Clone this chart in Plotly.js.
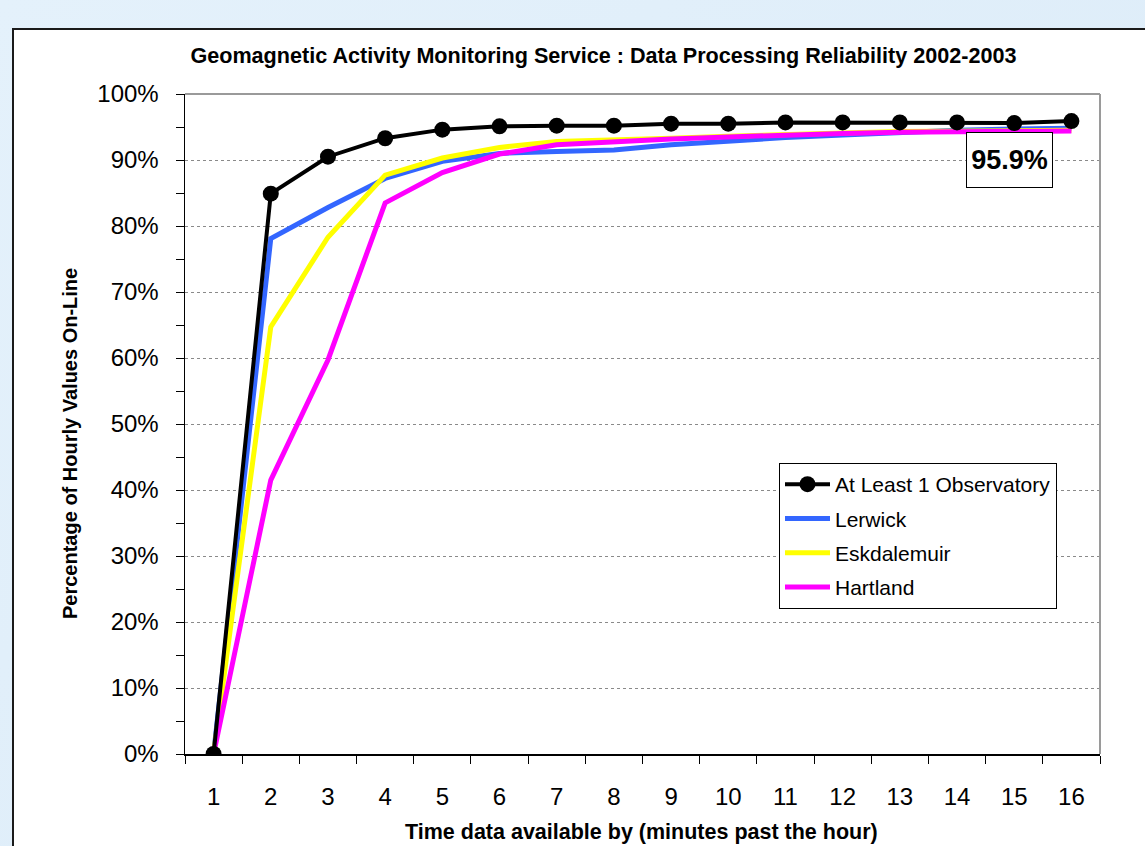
<!DOCTYPE html>
<html>
<head>
<meta charset="utf-8">
<script src="https://cdn.plot.ly/plotly-3.0.1.min.js"></script>
<style>
  html, body { margin: 0; padding: 0; }
  body { width: 1145px; height: 846px; overflow: hidden; position: relative;
         background: linear-gradient(135deg, #e4f1fb 0%, #dbebf8 100%); }
  #panel { position: absolute; left: 12px; top: 28px; width: 1200px; height: 900px;
           background: #ffffff; border-left: 2px solid #1a1a1a; border-top: 2px solid #1a1a1a; }
  #chart { position: absolute; left: 0; top: 0; width: 1145px; height: 846px; }
</style>
</head>
<body>
<div id="panel"></div>
<div id="chart"></div>
<script>
// ---- data (percent of hourly values on-line) ----
const minutes = ['1','2','3','4','5','6','7','8','9','10','11','12','13','14','15','16'];
const atLeastOne = [0, 84.9, 90.5, 93.3, 94.6, 95.1, 95.2, 95.2, 95.5, 95.5, 95.7, 95.7, 95.7, 95.7, 95.6, 95.9];
const lerwick    = [0, 78.1, 82.8, 87.2, 89.8, 91.0, 91.3, 91.5, 92.3, 92.9, 93.4, 93.8, 94.2, 94.5, 94.7, 94.8];
const eskdalemuir= [0, 64.7, 78.3, 87.7, 90.3, 91.9, 92.8, 93.0, 93.3, 93.6, 93.9, 94.1, 94.3, 94.4, 94.4, 94.5];
const hartland   = [0, 41.5, 59.7, 83.5, 88.1, 90.9, 92.3, 92.8, 93.2, 93.5, 93.8, 94.0, 94.2, 94.3, 94.4, 94.4];
const yTickVals  = [0, 10, 20, 30, 40, 50, 60, 70, 80, 90, 100];
const yTickText  = ['0%', '10%', '20%', '30%', '40%', '50%', '60%', '70%', '80%', '90%', '100%'];
const finalLabel = '95.9%';

const FONT = 'Liberation Sans, Arial, sans-serif';

const traces = [
  { x: minutes, y: lerwick, name: 'Lerwick', type: 'scatter', mode: 'lines',
    line: { color: '#3366ff', width: 5 }, legendrank: 2, legendgroup: 'b' },
  { x: minutes, y: eskdalemuir, name: 'Eskdalemuir', type: 'scatter', mode: 'lines',
    line: { color: '#ffff00', width: 5 }, legendrank: 3, legendgroup: 'c' },
  { x: minutes, y: hartland, name: 'Hartland', type: 'scatter', mode: 'lines',
    line: { color: '#ff00ff', width: 5 }, legendrank: 4, legendgroup: 'd' },
  { x: minutes, y: atLeastOne, name: 'At Least 1 Observatory', type: 'scatter', mode: 'lines+markers',
    line: { color: '#000000', width: 4 }, marker: { color: '#000000', size: 16 },
    legendrank: 1, legendgroup: 'a' }
];

const layout = {
  width: 1145, height: 846,
  paper_bgcolor: 'rgba(0,0,0,0)',
  plot_bgcolor: '#ffffff',
  margin: { l: 185, r: 45, t: 94, b: 92 },
  font: { family: FONT, color: '#000000' },
  showlegend: true,
  title: {
    text: 'Geomagnetic Activity Monitoring Service : Data Processing Reliability 2002-2003',
    font: { family: FONT, size: 21.6, weight: 'bold', color: '#000' },
    xref: 'container', yref: 'container', x: 0.527, y: 1 - 55/846,
    xanchor: 'center', yanchor: 'middle'
  },
  xaxis: {
    type: 'category', range: [-0.5, 15.5], tickson: 'boundaries',
    ticks: 'outside', ticklen: 8, tickcolor: '#000', tickwidth: 1,
    showline: true, linecolor: '#000', linewidth: 1.5,
    showgrid: false, zeroline: false,
    tickfont: { family: FONT, size: 24 }, ticklabelstandoff: 21,
    fixedrange: true
  },
  yaxis: {
    range: [0, 100], tickvals: yTickVals, ticktext: yTickText,
    ticks: 'outside', ticklen: 8, tickcolor: '#000', tickwidth: 1,
    minor: { dtick: 5, ticks: 'outside', ticklen: 8, tickcolor: '#000', showgrid: false },
    showline: true, linecolor: '#000', linewidth: 1.5,
    showgrid: true, gridcolor: '#8a8a8a', gridwidth: 1, griddash: 'dot',
    zeroline: false,
    tickfont: { family: FONT, size: 24 }, ticklabelstandoff: 12,
    fixedrange: true
  },
  legend: {
    x: (779 - 185) / 915, y: (754 - 463) / 660, xanchor: 'left', yanchor: 'top',
    bgcolor: '#ffffff', bordercolor: '#000000', borderwidth: 1,
    font: { family: FONT, size: 21, color: '#000' },
    traceorder: 'grouped', tracegroupgap: 4, itemwidth: 45
  },
  shapes: [
    { type: 'line', xref: 'paper', yref: 'paper', x0: 0, x1: 1, y0: 1, y1: 1,
      line: { color: '#9a9a9a', width: 2 }, layer: 'above' },
    { type: 'line', xref: 'paper', yref: 'paper', x0: 1, x1: 1, y0: 0, y1: 1,
      line: { color: '#9a9a9a', width: 2 }, layer: 'above' }
  ],
  annotations: [
    { text: finalLabel, xref: 'paper', yref: 'paper',
      x: (1009 - 185) / 915, y: (754 - 160) / 660, xanchor: 'center', yanchor: 'middle',
      showarrow: false, font: { family: FONT, size: 27, weight: 'bold', color: '#000' },
      width: 83, height: 52, borderpad: 1,
      bgcolor: '#ffffff', bordercolor: '#000000', borderwidth: 1 },
    { text: 'Time data available by (minutes past the hour)', xref: 'paper', yref: 'paper',
      x: (641 - 185) / 915, y: (754 - 832) / 660, xanchor: 'center', yanchor: 'middle',
      showarrow: false, font: { family: FONT, size: 21.5, weight: 'bold', color: '#000' } },
    { text: 'Percentage of Hourly Values On-Line', xref: 'paper', yref: 'paper',
      x: (70 - 185) / 915, y: (754 - 444) / 660, xanchor: 'center', yanchor: 'middle',
      textangle: -90, showarrow: false,
      font: { family: FONT, size: 20, weight: 'bold', color: '#000' } }
  ]
};

Plotly.newPlot('chart', traces, layout, { displayModeBar: false, staticPlot: true });
</script>
</body>
</html>
